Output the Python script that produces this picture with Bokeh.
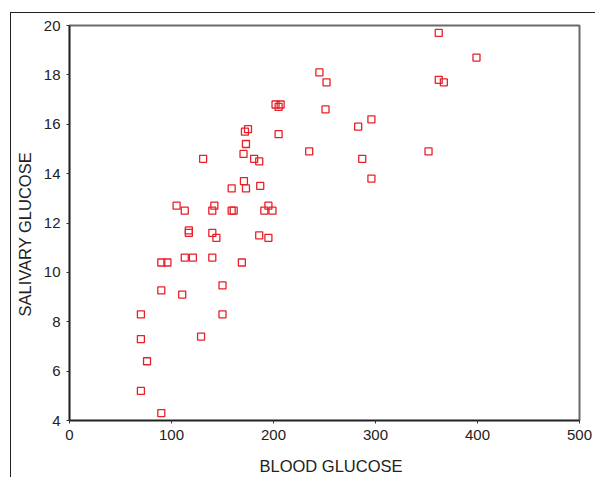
from bokeh.plotting import figure
from bokeh.models import Range1d, FixedTicker, ColumnDataSource, Title
from bokeh.embed import file_html
from bokeh.resources import INLINE

blood_glucose = [245, 252, 202, 207, 205, 251, 296, 283, 175, 172, 205, 173, 170.6, 235,
                 131, 181, 186, 287, 296, 171, 159, 173, 187, 105, 142, 113, 140, 159,
                 161, 195, 191, 199, 117, 117, 140, 144, 186, 195, 113, 121, 140, 90,
                 96, 169, 150, 90, 110.5, 70, 150, 70, 129, 76, 70, 90, 362, 399, 362,
                 367, 352]
salivary_glucose = [18.1, 17.7, 16.8, 16.8, 16.7, 16.6, 16.2, 15.9, 15.8, 15.7, 15.6, 15.2,
                    14.8, 14.9, 14.6, 14.6, 14.5, 14.6, 13.8, 13.7, 13.4, 13.4, 13.5, 12.7,
                    12.7, 12.5, 12.5, 12.5, 12.5, 12.7, 12.5, 12.5, 11.7, 11.6, 11.6, 11.4,
                    11.5, 11.4, 10.6, 10.6, 10.6, 10.4, 10.4, 10.4, 9.47, 9.27, 9.1, 8.3,
                    8.3, 7.3, 7.4, 6.4, 5.2, 4.3, 19.7, 18.7, 17.8, 17.7, 14.9]
x_ticks = [0, 100, 200, 300, 400, 500]
y_ticks = [4, 6, 8, 10, 12, 14, 16, 18, 20]
x_title = "BLOOD GLUCOSE"
y_title = "SALIVARY GLUCOSE"

src = ColumnDataSource(data=dict(x=blood_glucose, y=salivary_glucose))

frame_css = ("linear-gradient(#222222, #222222) 10px 12px / 1px 100% no-repeat, "
             "linear-gradient(#222222, #222222) 10px 12px / 100% 1px no-repeat, white")

p = figure(width=595, height=477, x_range=Range1d(0, 500), y_range=Range1d(4, 20),
           output_backend="svg", toolbar_location=None,
           min_border_left=69, min_border_right=16, min_border_top=25, min_border_bottom=57,
           styles={"background": frame_css})
p.grid.visible = False
p.background_fill_color = "white"
p.border_fill_alpha = 0
p.outline_line_color = "#6a6a6a"
p.outline_line_width = 2

p.scatter("x", "y", source=src, marker="square", size=7, fill_color=None,
          line_color="#e8202a", line_width=1.3)

for ax, ticks in ((p.xaxis[0], x_ticks), (p.yaxis[0], y_ticks)):
    ax.ticker = FixedTicker(ticks=ticks)
    ax.minor_tick_line_color = None
    ax.major_tick_in = 0
    ax.major_tick_out = 3
    ax.major_tick_line_color = "#333333"
    ax.axis_line_color = "#222222"
    ax.axis_line_width = 1.6
    ax.major_label_text_font = "Liberation Sans"
    ax.major_label_text_font_size = "15px"
    ax.major_label_text_color = "#222222"
    ax.major_label_standoff = 6

title_style = dict(text_font="Liberation Sans", text_font_size="16.5px", text_font_style="normal",
                   text_color="#222222", align="left", vertical_align="middle")
# blank spacer between the x tick labels and the x title
p.add_layout(Title(text=" ", text_font_size="9px", standoff=1), "below")
p.add_layout(Title(text=x_title, offset=190, standoff=0, **title_style), "below")
p.add_layout(Title(text=y_title, offset=104, standoff=12, **title_style), "left")

open("out.html", "w").write(file_html(p, INLINE))
